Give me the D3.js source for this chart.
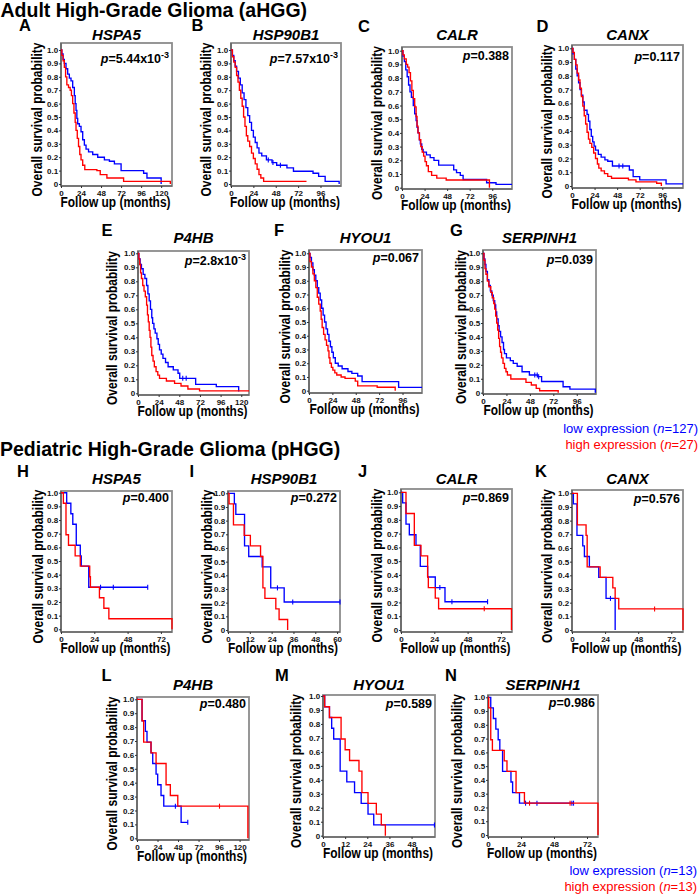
<!DOCTYPE html>
<html><head><meta charset="utf-8">
<script src="https://cdn.jsdelivr.net/npm/d3@7"></script>
<style>
body{margin:0;background:#fff}
svg{display:block}
text{font-family:"Liberation Sans",Arial,Helvetica,sans-serif}
</style>
</head><body>
<svg id="c" width="700" height="894"></svg>
<script>
// ---------------- DATA ----------------
const genes = ["HSPA5","HSP90B1","CALR","CANX","P4HB","HYOU1","SERPINH1"];
const adultLetters = ["A","B","C","D","E","F","G"];
const pedLetters = ["H","I","J","K","L","M","N"];
const adultP = ["5.44x10","7.57x10","0.388","0.117","2.8x10","0.067","0.039"];
const adultPSup = ["-3","-3","","","-3","",""];
const pedP = ["0.400","0.272","0.869","0.576","0.480","0.589","0.986"];
const adultXMax = [133,118,117,118,129,116,115.7];
const pedXMax = [80,61.6,80,80.5,131,60.7,80];
const adultXTicks = [[0,24,48,72,96,120],[0,24,48,72,96],[0,24,48,72,96],[0,24,48,72,96],[0,24,48,72,96,120],[0,24,48,72,96],[0,24,48,72,96]];
const pedXTicks = [[0,24,48,72],[0,12,24,36,48,60],[0,24,48,72],[0,24,48,72],[0,24,48,72,96,120],[0,12,24,36,48],[0,24,48,72]];
const yTicks = [0,0.1,0.2,0.3,0.4,0.5,0.6,0.7,0.8,0.9,1.0];
const adultLegend = ["127","27"];
const pedLegend = ["13","13"];

// adult curves [months, survival]
const aHSPA5Low = [[0,1],[1,0.97],[2.5,0.93],[4,0.9],[6,0.86],[8,0.82],[10,0.79],[12,0.77],[14,0.72],[16,0.66],[17,0.6],[18,0.55],[19,0.49],[20,0.45],[22,0.43],[24,0.39],[26,0.33],[28,0.29],[30,0.26],[33,0.24],[38,0.22],[44,0.2],[52,0.18],[58,0.17],[64,0.15],[72,0.1],[99,0.08],[103,0.045],[120,0]];
const aHSPA5High = [[0,1],[1,0.96],[2.5,0.92],[4,0.87],[5.5,0.8],[7,0.74],[9,0.72],[11,0.7],[12.5,0.66],[14,0.6],[15.5,0.53],[17,0.46],[18,0.4],[19.5,0.34],[21,0.28],[22.5,0.22],[24,0.18],[26,0.14],[28.5,0.107],[43,0.1],[47,0.07],[55,0.045],[75,0.02],[131,0]];
const aHSP90B1Low = [[0,1],[1.5,0.96],[3,0.92],[4.5,0.88],[6,0.84],[8,0.79],[10,0.74],[12,0.68],[14,0.63],[16,0.57],[18,0.51],[20,0.46],[22,0.4],[24,0.35],[26,0.31],[28,0.27],[30,0.23],[33,0.21],[38,0.18],[44,0.16],[49,0.14],[60,0.12],[67,0.095],[88,0.08],[94,0.057],[101,0.02],[116,0]];
const aHSP90B1High = [[0,1],[1.5,0.95],[3,0.91],[4.5,0.87],[6,0.81],[7.5,0.76],[9,0.7],[10.5,0.64],[12,0.58],[13.5,0.5],[15,0.43],[16.5,0.36],[18,0.32],[20,0.28],[22,0.23],[24,0.19],[26,0.15],[28,0.11],[30,0.07],[32,0.045],[35,0.02],[81,0.02]];
const aCALRLow = [[0,1],[1,0.96],[2.5,0.92],[4,0.86],[5.5,0.81],[7,0.75],[8.5,0.7],[10,0.66],[12,0.6],[13.5,0.54],[15,0.49],[16,0.44],[17,0.4],[18.5,0.35],[19.5,0.32],[21,0.28],[22.5,0.26],[26,0.24],[30,0.22],[34,0.2],[39,0.165],[55,0.13],[58,0.11],[62,0.09],[65,0.06],[90,0.036],[100,0.024],[117,0.024]];
const aCALRHigh = [[0,1],[1,0.97],[2.5,0.94],[4.5,0.9],[6,0.88],[7.5,0.84],[9,0.78],[10.5,0.71],[12,0.65],[13.5,0.59],[15,0.52],[16,0.45],[17,0.4],[18.5,0.35],[20,0.3],[21.5,0.26],[23,0.23],[24.5,0.19],[26,0.16],[28,0.117],[31.5,0.09],[37,0.07],[47,0.056],[93,0]];
const aCANXLow = [[0,1],[1,0.96],[2.5,0.92],[4,0.85],[5.5,0.8],[7,0.75],[8.5,0.7],[10,0.66],[11.5,0.61],[13,0.55],[16,0.52],[17.5,0.47],[19,0.41],[20.5,0.36],[22,0.32],[23.5,0.29],[25,0.26],[28,0.23],[31,0.21],[35,0.19],[38,0.18],[43,0.145],[61,0.116],[65,0.068],[72,0.044],[100,0.015],[118,0.015]];
const aCANXHigh = [[0,1],[1,0.97],[2.5,0.92],[4,0.88],[5.5,0.82],[7,0.77],[8.5,0.71],[10,0.65],[11.5,0.58],[13,0.51],[14.5,0.45],[16,0.39],[17.5,0.34],[19,0.31],[21,0.28],[23,0.24],[25,0.2],[27,0.16],[28.5,0.13],[31,0.11],[34.5,0.09],[38,0.07],[42,0.056],[60,0.045],[68,0.03],[90,0.02],[95,0]];
const aP4HBLow = [[0,1],[1,0.96],[2.5,0.92],[4,0.89],[6,0.85],[8,0.82],[10,0.77],[11.5,0.71],[13,0.66],[14.5,0.6],[16,0.54],[17,0.5],[18.5,0.46],[20,0.43],[22,0.39],[23.5,0.35],[25,0.31],[27,0.28],[29,0.25],[32,0.22],[35,0.19],[41,0.167],[46.5,0.143],[48.5,0.107],[67,0.064],[91,0.048],[117,0.012]];
const aP4HBHigh = [[0,1],[1,0.96],[2,0.92],[3,0.86],[4,0.82],[5.5,0.77],[7,0.73],[8.5,0.69],[10,0.63],[11,0.56],[12,0.51],[13,0.45],[14,0.4],[15,0.33],[16,0.27],[17.5,0.23],[19,0.19],[21,0.155],[23,0.13],[25,0.107],[33,0.088],[42.5,0.071],[50,0.052],[58,0.031],[71.5,0.017],[129,0.017]];
const aHYOU1Low = [[0,1],[1,0.97],[2.5,0.93],[4,0.88],[5.5,0.84],[7,0.8],[8.5,0.75],[10,0.71],[11.5,0.66],[13,0.6],[14.5,0.55],[16,0.5],[17.5,0.45],[19,0.41],[20.5,0.36],[22,0.32],[23.5,0.28],[25,0.24],[27,0.2],[30,0.18],[34,0.16],[40,0.14],[44,0.126],[50,0.107],[54.5,0.066],[92,0.024],[116,0.024]];
const aHYOU1High = [[0,1],[1,0.94],[2.5,0.9],[4,0.85],[5.5,0.8],[7,0.75],[8.5,0.68],[10,0.63],[11.5,0.58],[12.5,0.52],[13.5,0.46],[15,0.41],[16.5,0.37],[18,0.33],[19.5,0.29],[20.5,0.24],[21.5,0.2],[23,0.17],[24.5,0.15],[26.5,0.13],[28.5,0.114],[33,0.1],[37,0.09],[47.5,0.07],[50,0.035],[70,0.025],[88.5,0]];
const aSERPINH1Low = [[0,1],[1,0.96],[2,0.92],[3,0.87],[4.5,0.81],[6,0.77],[7.5,0.73],[9,0.7],[10.5,0.66],[12,0.63],[13,0.58],[14,0.53],[15.5,0.48],[16.5,0.44],[18,0.4],[19.5,0.36],[21,0.31],[22,0.28],[24,0.25],[28,0.23],[31,0.21],[35,0.19],[40,0.15],[47.5,0.127],[56,0.115],[60,0.08],[82,0.043],[89,0.026],[115,0]];
const aSERPINH1High = [[0,1],[1,0.95],[2,0.89],[3,0.85],[4.5,0.8],[6,0.76],[8,0.72],[9.5,0.68],[11,0.64],[12,0.6],[13,0.55],[14,0.5],[15,0.45],[16,0.39],[17,0.33],[18,0.29],[19,0.25],[20.5,0.21],[22,0.175],[23.5,0.15],[25,0.127],[28.5,0.098],[44,0.074],[49.5,0.055],[54.5,0.031],[58,0.014],[77,0]];
// adult censor times (low expression)
const aHSP90B1LowCens = [40,45,53];
const aCANXLowCens = [50,54];
const aP4HBLowCens = [52,56];
const aSERPINH1LowCens = [53,55.5,57];

// pediatric curves
const pHSPA5Low = [[0,1],[4.1,0.923],[7.1,0.846],[8.5,0.769],[11,0.615],[13.9,0.538],[14.6,0.462],[20,0.308],[62.5,0.308]];
const pHSPA5High = [[0,1],[1.7,0.923],[3.6,0.692],[5.4,0.615],[10.2,0.538],[13.9,0.462],[20.7,0.385],[21.2,0.308],[27.7,0.231],[30.9,0.154],[34.5,0.077],[80,0]];
const pHSP90B1Low = [[0,1],[3.5,0.923],[4.3,0.846],[9.1,0.615],[11.4,0.538],[18.8,0.462],[23.5,0.308],[30.9,0.205],[61.6,0.205]];
const pHSP90B1High = [[0,1],[0.6,0.923],[3,0.769],[8.9,0.692],[12.3,0.615],[17.9,0.538],[19.2,0.308],[20.3,0.231],[26.3,0.154],[28.1,0.077],[32.8,0]];
const pCALRLow = [[0,1],[1.2,0.923],[3.6,0.769],[6,0.692],[10.8,0.615],[13.9,0.462],[19.2,0.385],[24.7,0.308],[31.7,0.205],[62.4,0.205]];
const pCALRHigh = [[0,1],[3.6,0.846],[9.6,0.615],[14.4,0.538],[19.2,0.385],[19.7,0.308],[24.7,0.231],[27.1,0.154],[79.6,0]];
const pCANXLow = [[0,1],[1,0.923],[3.6,0.692],[7.8,0.615],[9,0.538],[12.6,0.462],[19.4,0.385],[24.7,0.231],[31.3,0]];
const pCANXHigh = [[0,1],[3.9,0.769],[10.2,0.692],[11,0.462],[20.4,0.385],[29.6,0.308],[31.3,0.231],[33.9,0.154],[80.5,0]];
const pP4HBLow = [[0,1],[5.9,0.846],[9.8,0.769],[11.7,0.692],[16.4,0.615],[18.4,0.538],[22.3,0.462],[24.2,0.385],[28.1,0.308],[31.3,0.231],[51.6,0.115],[59.4,0.115]];
const pP4HBHigh = [[0,1],[5.9,0.846],[7.8,0.692],[16.4,0.615],[22.3,0.538],[34,0.385],[39,0.308],[47.7,0.231],[129.7,0]];
const pHYOU1Low = [[0,1],[0.9,0.923],[3.5,0.846],[4.7,0.769],[5.8,0.692],[9.3,0.462],[12.9,0.385],[17.1,0.308],[20.7,0.231],[24.4,0.154],[27.5,0.077],[60.4,0.077]];
const pHYOU1High = [[0,1],[0.9,0.923],[3.5,0.846],[9.8,0.692],[12,0.615],[14.4,0.538],[19.5,0.462],[21.1,0.308],[24.4,0.231],[28.9,0.154],[31.6,0.077],[33.8,0]];
const pSERPINH1Low = [[0,1],[2,0.923],[3.9,0.846],[5.7,0.769],[7.4,0.692],[8.6,0.615],[10.6,0.462],[16.7,0.385],[17.9,0.308],[22.9,0.231],[62.2,0.231]];
const pSERPINH1High = [[0,1],[0.5,0.923],[2,0.692],[3.2,0.615],[11.8,0.538],[13.8,0.462],[20.4,0.308],[26.5,0.231],[80,0]];
// pediatric censor times
const pHSPA5LowCens = [28.5,37.7,62.5];
const pHSP90B1LowCens = [27.2,35.6,61.6];
const pCALRLowCens = [28,36.7,62.4];
const pCALRHighCens = [60];
const pCANXLowCens = [27.9];
const pCANXHighCens = [59.9];
const pP4HBLowCens = [44.9,59.4];
const pP4HBHighCens = [96.5];
const pHYOU1LowCens = [60.4];
const pSERPINH1LowCens = [27.3,35.6,61,62.2];
const pSERPINH1HighCens = [30.2,59.7];

// ---------------- LAYOUT ----------------
const layout = [
 {x0:61,x1:172,top:43,bot:186,y1:50,y0:184,py:63,lx:19,ly:31,ty:39.5,ylx:38},
 {x0:231,x1:341,top:43,bot:186,y1:50,y0:184,py:63,lx:191.5,ly:31,ty:39.5,ylx:207},
 {x0:402,x1:512,top:47,bot:189,y1:50.7,y0:187.7,py:60,lx:358,ly:31.5,ty:39.5,ylx:378},
 {x0:572,x1:683,top:45,bot:188,y1:48.3,y0:186,py:60.5,lx:536.5,ly:31.5,ty:39.5,ylx:548},
 {x0:138,x1:249,top:251,bot:395,y1:253.3,y0:393.3,py:265,lx:101.5,ly:236,ty:243,ylx:113},
 {x0:309,x1:422,top:250,bot:393,y1:253.3,y0:390.7,py:262,lx:274,ly:236,ty:243,ylx:286},
 {x0:483,x1:596,top:250,bot:394,y1:253.3,y0:392.7,py:264,lx:450,ly:236,ty:243,ylx:461.5},
 {x0:61,x1:172,top:491,bot:632,y1:492.7,y0:629.3,py:502,lx:17,ly:477,ty:484,ylx:39},
 {x0:228,x1:340,top:491,bot:632,y1:493.3,y0:630,py:502,lx:189.5,ly:477,ty:484,ylx:207.5},
 {x0:401,x1:512,top:489,bot:632,y1:492.3,y0:630,py:502,lx:358,ly:477,ty:484,ylx:378},
 {x0:572,x1:683,top:490,bot:632,y1:493.3,y0:630,py:503,lx:535,ly:477,ty:484,ylx:548},
 {x0:137,x1:249,top:697,bot:840,y1:699.3,y0:838.3,py:708,lx:101.5,ly:681,ty:690,ylx:112.5},
 {x0:323,x1:435,top:695,bot:837,y1:696,y0:835.7,py:708,lx:275,ly:681,ty:690,ylx:297},
 {x0:488,x1:598,top:695,bot:837,y1:697.3,y0:835,py:707,lx:445,ly:681,ty:690,ylx:458}
];

const BLUE = "#0000ff", RED = "#ff0000";
const svg = d3.select("#c");

const panels = [
 {low:aHSPA5Low, high:aHSPA5High, lowC:[], highC:[]},
 {low:aHSP90B1Low, high:aHSP90B1High, lowC:aHSP90B1LowCens, highC:[]},
 {low:aCALRLow, high:aCALRHigh, lowC:[], highC:[]},
 {low:aCANXLow, high:aCANXHigh, lowC:aCANXLowCens, highC:[]},
 {low:aP4HBLow, high:aP4HBHigh, lowC:aP4HBLowCens, highC:[]},
 {low:aHYOU1Low, high:aHYOU1High, lowC:[], highC:[]},
 {low:aSERPINH1Low, high:aSERPINH1High, lowC:aSERPINH1LowCens, highC:[]},
 {low:pHSPA5Low, high:pHSPA5High, lowC:pHSPA5LowCens, highC:[]},
 {low:pHSP90B1Low, high:pHSP90B1High, lowC:pHSP90B1LowCens, highC:[]},
 {low:pCALRLow, high:pCALRHigh, lowC:pCALRLowCens, highC:pCALRHighCens},
 {low:pCANXLow, high:pCANXHigh, lowC:pCANXLowCens, highC:pCANXHighCens},
 {low:pP4HBLow, high:pP4HBHigh, lowC:pP4HBLowCens, highC:pP4HBHighCens},
 {low:pHYOU1Low, high:pHYOU1High, lowC:pHYOU1LowCens, highC:[]},
 {low:pSERPINH1Low, high:pSERPINH1High, lowC:pSERPINH1LowCens, highC:pSERPINH1HighCens}
];
panels.forEach((p,i)=>{
  const a = i < 7;
  const k = a ? i : i-7;
  p.gene = genes[k];
  p.letter = a ? adultLetters[k] : pedLetters[k];
  p.pv = a ? adultP[k] : pedP[k];
  p.sup = a ? adultPSup[k] : "";
  p.xmax = a ? adultXMax[k] : pedXMax[k];
  p.xticks = a ? adultXTicks[k] : pedXTicks[k];
  p.L = layout[i];
});

function survAt(data, t){
  let s = data[0][1];
  for (const d of data){ if (d[0] <= t) s = d[1]; else break; }
  return s;
}

// headers
svg.append("text").attr("x",0.5).attr("y",17).attr("font-size",19.5).attr("font-weight","bold").text("Adult High-Grade Glioma (aHGG)");
svg.append("text").attr("x",0).attr("y",456).attr("font-size",19.5).attr("font-weight","bold").text("Pediatric High-Grade Glioma (pHGG)");

panels.forEach(p=>{
  const L = p.L;
  const g = svg.append("g");
  const x = d3.scaleLinear().domain([0,p.xmax]).range([L.x0,L.x1]);
  const y = d3.scaleLinear().domain([0,1]).range([L.y0,L.y1]);

  // box
  g.append("rect").attr("x",L.x0).attr("y",L.top).attr("width",L.x1-L.x0).attr("height",L.bot-L.top)
    .attr("fill","none").attr("stroke","#8c8c8c").attr("stroke-width",1.8);
  g.append("line").attr("x1",L.x0).attr("x2",L.x0).attr("y1",L.top).attr("y2",L.bot).attr("stroke","#555").attr("stroke-width",1.2);
  g.append("line").attr("x1",L.x0).attr("x2",L.x1).attr("y1",L.bot).attr("y2",L.bot).attr("stroke","#555").attr("stroke-width",1.2);

  // axes
  const xa = g.append("g").attr("transform",`translate(0,${L.bot})`)
    .call(d3.axisBottom(x).tickValues(p.xticks).tickSize(2).tickSizeOuter(0).tickPadding(2).tickFormat(d3.format("d")));
  const ya = g.append("g").attr("transform",`translate(${L.x0},0)`)
    .call(d3.axisLeft(y).tickValues(yTicks).tickSize(2).tickSizeOuter(0).tickPadding(0.8)
      .tickFormat(d => d===0 ? "0" : d3.format(".1f")(d)));
  [xa,ya].forEach(ax=>{
    ax.select(".domain").remove();
    ax.selectAll("line").attr("stroke","#333");
    ax.selectAll("text").attr("font-size",8).attr("font-weight","bold").attr("fill","#111")
      .style("font-family",'"Liberation Sans",Arial,sans-serif');
  });

  // curves
  const line = d3.line().x(d=>x(d[0])).y(d=>y(d[1])).curve(d3.curveStepAfter);
  [[p.low,BLUE,p.lowC],[p.high,RED,p.highC]].forEach(([data,col,cens])=>{
    g.append("path").attr("d",line(data)).attr("fill","none").attr("stroke",col).attr("stroke-width",1.35);
    cens.forEach(t=>{
      const cx = x(t), cy = y(survAt(data,t));
      g.append("line").attr("x1",cx).attr("x2",cx).attr("y1",cy-2.5).attr("y2",cy+2.5).attr("stroke",col).attr("stroke-width",1.1);
    });
  });

  // p-value
  const pt = g.append("text").attr("x",L.x1-3).attr("y",L.py).attr("text-anchor","end")
    .attr("font-size",12.5).attr("font-weight","bold");
  pt.append("tspan").attr("font-style","italic").text("p");
  pt.append("tspan").text("="+p.pv);
  if (p.sup) pt.append("tspan").attr("dy",-5).attr("font-size",9).text(p.sup);

  // gene title
  g.append("text").attr("x",(L.x0+L.x1)/2).attr("y",L.ty).attr("text-anchor","middle")
    .attr("font-size",15).attr("font-weight","bold").attr("font-style","italic").text(p.gene);
  // panel letter
  g.append("text").attr("x",L.lx).attr("y",L.ly).attr("font-size",16.5).attr("font-weight","bold").text(p.letter);

  // axis titles
  g.append("text").attr("x",(L.x0+L.x1)/2 - 1).attr("y",L.bot+21).attr("text-anchor","middle")
    .attr("font-size",14.5).attr("font-weight","bold")
    .attr("textLength",110).attr("lengthAdjust","spacingAndGlyphs").text("Follow up (months)");
  const cy = (L.top+L.bot)/2 + 5;
  g.append("text").attr("transform",`translate(${L.ylx+4},${cy}) rotate(-90)`).attr("text-anchor","middle")
    .attr("font-size",15.5).attr("font-weight","bold")
    .attr("textLength",154).attr("lengthAdjust","spacingAndGlyphs").text("Overall survival probability");
});

// legends
function legend(xr, yb, nums){
  [[BLUE,"low",nums[0],yb],[RED,"high",nums[1],yb+16]].forEach(([col,lab,n,yy])=>{
    const t = svg.append("text").attr("x",xr).attr("y",yy).attr("text-anchor","end").attr("font-size",13).attr("fill",col);
    t.append("tspan").text(lab+" expression (");
    t.append("tspan").attr("font-style","italic").text("n");
    t.append("tspan").text("="+n+")");
  });
}
legend(698, 432.5, adultLegend);
legend(697, 875, pedLegend);
</script>
</body></html>
